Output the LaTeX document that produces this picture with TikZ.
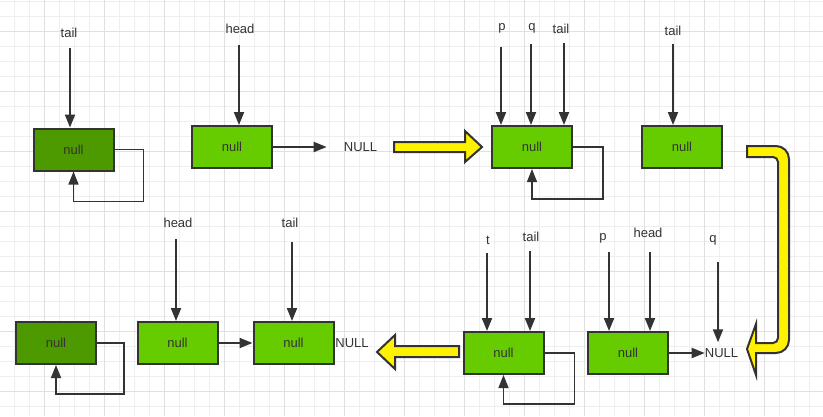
\documentclass[tikz,border=0pt]{standalone}
\usepackage{fontspec}
\setmainfont{Liberation Sans}
\usetikzlibrary{arrows.meta}

\definecolor{nodegreen}{HTML}{66CC00}
\definecolor{freedgreen}{HTML}{4D9900}
\definecolor{ink}{HTML}{333333}
\definecolor{gridminor}{HTML}{EFEFEF}
\definecolor{gridmajor}{HTML}{E0E0E0}

\tikzset{
    listnode/.style={draw=ink, line width=2pt, fill=nodegreen, minimum width=80pt,
        minimum height=42pt, inner sep=0pt, text=ink, font=\fontsize{13}{15}\selectfont},
    freednode/.style={listnode, fill=freedgreen},
    lbl/.style={inner sep=0pt, text=ink, font=\fontsize{13}{15}\selectfont},
    ptr/.style={draw=ink, line width=2pt, -{Triangle[length=13pt,width=10pt]}},
    selfref/.style={draw=ink, line width=1.5pt, line join=miter, -{Triangle[length=13pt,width=10pt]}},
    bigarrow/.style={draw=ink, line width=2pt, fill=yellow, line join=miter}
}

\begin{document}
\begin{tikzpicture}[x=1pt, y=-1pt]
    \useasboundingbox (0, 0) rectangle (823, 416);
    \fill[white] (0, 0) rectangle (823, 416);
    %grid
    \foreach \i in {0,...,54} \draw[gridminor, line width=1pt] (14.5+15*\i, 0) -- (14.5+15*\i, 416);
    \foreach \j in {0,...,27} \draw[gridminor, line width=1pt] (0, 1+15*\j) -- (823, 1+15*\j);
    \foreach \i in {0,...,12} \draw[gridmajor, line width=1pt] (44.5+60*\i, 0) -- (44.5+60*\i, 416);
    \foreach \j in {0,...,6} \draw[gridmajor, line width=1pt] (0, 31+60*\j) -- (823, 31+60*\j);

    %top row
    \node[freednode] (A) at (73.5, 149.5) {null};
    \node[listnode] (B) at (232, 147) {null};
    \node[lbl] (nullB) at (360.5, 147) {NULL};
    \node[listnode] (C) at (532, 147) {null};
    \node[listnode] (D) at (682, 147) {null};

    \node[lbl] (tailA) at (69, 33) {tail};
    \draw[ptr] (70, 48) coordinate (sA) -- (sA |- A.north);
    \node[lbl] (headB) at (240, 29) {head};
    \draw[ptr] (239, 45) coordinate (sB) -- (sB |- B.north);
    \draw[ptr, shorten >=17pt] (B) -- (nullB);
    \node[lbl] (pC) at (502, 28) {p};
    \draw[ptr] (501, 47) coordinate (sp) -- (sp |- C.north);
    \node[lbl] (qC) at (532, 28) {q};
    \draw[ptr] (531, 44) coordinate (sq) -- (sq |- C.north);
    \node[lbl] (tailC) at (561, 29) {tail};
    \draw[ptr] (564, 43) coordinate (st) -- (st |- C.north);
    \node[lbl] (tailD) at (673, 31) {tail};
    \draw[ptr] (673, 44) coordinate (sD) -- (sD |- D.north);

    \draw[selfref] (A.east) -- ++(29, 0) |- ([yshift=-30pt]A.south) -- (A.south);
    \draw[selfref] (C.east) -- ++(30, 0) |- ([yshift=-30pt]C.south) -- (C.south);

    %bottom row
    \node[freednode] (E) at (56, 343) {null};
    \node[listnode] (F) at (177.5, 343) {null};
    \node[listnode] (G) at (293.5, 343) {null};
    \node[lbl] (nullG) at (352, 343) {NULL};
    \node[listnode] (H) at (503.5, 353) {null};
    \node[listnode] (I) at (628, 353) {null};
    \node[lbl] (nullI) at (721.5, 353) {NULL};

    \node[lbl] (headF) at (178, 223) {head};
    \draw[ptr] (176, 239) coordinate (sF) -- (sF |- F.north);
    \node[lbl] (tailG) at (290, 223) {tail};
    \draw[ptr] (292, 242) coordinate (sG) -- (sG |- G.north);
    \draw[ptr] (F) -- (G);
    \node[lbl] (tH) at (488, 240) {t};
    \draw[ptr] (487, 253) coordinate (stH) -- (stH |- H.north);
    \node[lbl] (tailH) at (531, 237) {tail};
    \draw[ptr] (530, 251) coordinate (stailH) -- (stailH |- H.north);
    \node[lbl] (pI) at (603, 238) {p};
    \draw[ptr] (609, 252) coordinate (spI) -- (spI |- I.north);
    \node[lbl] (headI) at (648, 233) {head};
    \draw[ptr] (650, 252) coordinate (sheadI) -- (sheadI |- I.north);
    \node[lbl] (qI) at (713, 240) {q};
    \draw[ptr, shorten >=6pt] (718, 262) coordinate (sqI) -- (sqI |- nullI.north);
    \draw[ptr] (I) -- (nullI);

    \draw[selfref] (E.east) -- ++(27, 0) |- ([yshift=-29pt]E.south) -- (E.south);
    \draw[selfref] (H.east) -- ++(30, 0) |- ([yshift=-29pt]H.south) -- (H.south);

    %yellow step arrows
    \draw[bigarrow] (394, 142) -- (465, 142) -- (465, 131) -- (482, 147) -- (465, 162) -- (465, 152) -- (394, 152) -- cycle;
    \draw[bigarrow] (747, 157) -- (747, 146) [rounded corners=13pt] -- (789, 146) -- (789, 353) [sharp corners] -- (756, 353) -- (756, 375) -- (747, 349) -- (756, 324) -- (756, 343) [rounded corners=5pt] -- (778, 343) -- (778, 157) [sharp corners] -- cycle;
    \draw[bigarrow] (459, 346) -- (395, 346) -- (395, 335) -- (377, 352) -- (395, 369) -- (395, 357) -- (459, 357) -- cycle;
\end{tikzpicture}
\end{document}
